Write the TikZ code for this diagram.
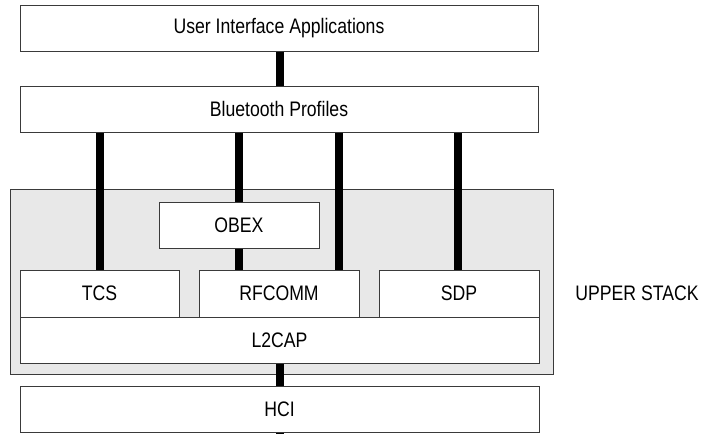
\documentclass[tikz,border=0pt]{standalone}
\usepackage{fontspec}
\setmainfont{Liberation Sans}[FakeStretch=0.84]
\definecolor{stackgray}{HTML}{E8E8E8}
\definecolor{boxline}{HTML}{3A3A3A}
\tikzset{
    layer/.style={draw=boxline, line width=1pt, fill=white, inner sep=0pt,
        minimum height=46pt, font=\fontsize{21}{25}\selectfont},
    bar/.style={line width=8pt, black}
}
\begin{document}
\begin{tikzpicture}[x=1pt, y=-1pt]
        \useasboundingbox (0,0) rectangle (702,434);

        % Upper stack background
        \draw[boxline, line width=1pt, fill=stackgray] (10,189) rectangle (553,374);

        % Top layers
        \node[layer, minimum width=518pt] (uia) at (279,28) {User Interface Applications};
        \node[layer, minimum width=518pt] (bp) at (279,109) {Bluetooth Profiles};

        % Protocols inside the upper stack
        \node[layer, minimum width=160pt] (obex) at (239,225) {OBEX};
        \node[layer, minimum width=159pt, minimum height=47pt] (tcs) at (99.5,293.5) {TCS};
        \node[layer, minimum width=160pt, minimum height=47pt] (rfcomm) at (279,293.5) {RFCOMM};
        \node[layer, minimum width=160pt, minimum height=47pt] (sdp) at (459,293.5) {SDP};
        \node[layer, minimum width=519pt] (l2cap) at (279.5,340) {L2CAP};

        % Lower layer
        \node[layer, minimum width=519pt] (hci) at (279.5,409) {HCI};
        \coordinate (hciout) at (279.5,434);

        \node[font=\fontsize{21}{25}\selectfont] (upper) at (637,293) {UPPER STACK};

        % Links between layers
        \draw[bar] (uia.south -| 280,0) -- (bp.north -| 280,0);
        \draw[bar] (bp.south -| tcs) -- (tcs.north);
        \draw[bar] (bp.south -| obex) -- (obex.north);
        \draw[bar] (obex.south) -- (obex.south |- rfcomm.north);
        \draw[bar] (bp.south -| 339,0) -- (rfcomm.north -| 339,0);
        \draw[bar] (bp.south -| 458,0) -- (sdp.north -| 458,0);
        \draw[bar] (l2cap.south) -- (hci.north);
        \draw[bar] (hci.south) -- (hciout);
    \end{tikzpicture}
\end{document}
